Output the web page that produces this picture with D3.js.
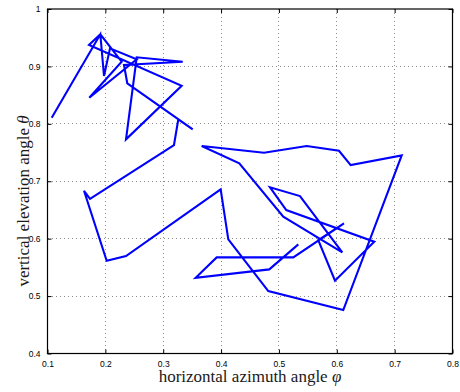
<!DOCTYPE html>
<html>
<head>
<meta charset="utf-8">
<script src="https://cdn.jsdelivr.net/npm/d3@7"></script>
<style>
  html, body { margin: 0; padding: 0; background: #fff; }
  svg { display: block; }
</style>
</head>
<body>
<svg id="chart" width="460" height="392"></svg>
<script>
// ---- data ----
const phi = [0.1073, 0.1913, 0.1977, 0.2080, 0.2542, 0.1722, 0.2282, 0.1913, 0.1717, 0.3319,
             0.2357, 0.2542, 0.3337, 0.2322, 0.2379, 0.3510, 0.3261, 0.3186, 0.1735, 0.1631,
             0.2023, 0.2357, 0.3993, 0.4125, 0.4816, 0.6112, 0.7122, 0.6240, 0.6038, 0.5480,
             0.4742, 0.3665, 0.4315, 0.5075, 0.6095, 0.5364, 0.4846, 0.5127, 0.6648, 0.5969,
             0.5680, 0.6124, 0.5248, 0.3924, 0.3561, 0.4833, 0.5335];
const theta = [0.8106, 0.9559, 0.8833, 0.9315, 0.9124, 0.8455, 0.9082, 0.9559, 0.9373, 0.8664,
               0.7730, 0.9159, 0.9082, 0.9024, 0.8706, 0.7904, 0.8078, 0.7631, 0.6695, 0.6834,
               0.5615, 0.5697, 0.6859, 0.5988, 0.5087, 0.4756, 0.7451, 0.7282, 0.7531, 0.7613,
               0.7497, 0.7613, 0.7312, 0.6382, 0.5761, 0.6742, 0.6894, 0.6498, 0.5946, 0.5267,
               0.5976, 0.6267, 0.5674, 0.5674, 0.5319, 0.5465, 0.5901];
const xTicks = [0.1, 0.2, 0.3, 0.4, 0.5, 0.6, 0.7, 0.8];
const xTickLabels = ["0.1", "0.2", "0.3", "0.4", "0.5", "0.6", "0.7", "0.8"];
const yTicks = [0.4, 0.5, 0.6, 0.7, 0.8, 0.9, 1.0];
const yTickLabels = ["0.4", "0.5", "0.6", "0.7", "0.8", "0.9", "1"];
const xDomain = [0.1, 0.8];
const yDomain = [0.4, 1.0];

// ---- layout ----
const L = 47.5, R = 452.5, T = 9, B = 353.5;
const svg = d3.select("#chart");
const x = d3.scaleLinear().domain(xDomain).range([L, R]);
const y = d3.scaleLinear().domain(yDomain).range([B, T]);

// grid
const grid = svg.append("g");
grid.selectAll("line.gx").data(xTicks.slice(1, -1)).enter().append("line")
  .attr("x1", d => x(d)).attr("x2", d => x(d)).attr("y1", T).attr("y2", B)
  .attr("stroke", "#8c8c8c").attr("stroke-width", 1).attr("stroke-dasharray", "1,3")
  .attr("shape-rendering", "crispEdges");
grid.selectAll("line.gy").data(yTicks.slice(1, -1)).enter().append("line")
  .attr("y1", d => y(d)).attr("y2", d => y(d)).attr("x1", L).attr("x2", R)
  .attr("stroke", "#8c8c8c").attr("stroke-width", 1).attr("stroke-dasharray", "1,3")
  .attr("shape-rendering", "crispEdges");

// axes with inward ticks (MATLAB style)
const fmtX = (d, i) => xTickLabels[i];
const fmtY = (d, i) => yTickLabels[i];
const axB = svg.append("g").attr("transform", `translate(0,${B})`)
  .call(d3.axisBottom(x).tickValues(xTicks).tickFormat(fmtX).tickSizeInner(-4).tickSizeOuter(0).tickPadding(7));
const axT = svg.append("g").attr("transform", `translate(0,${T})`)
  .call(d3.axisTop(x).tickValues(xTicks).tickFormat("").tickSizeInner(-4).tickSizeOuter(0));
const axL = svg.append("g").attr("transform", `translate(${L},0)`)
  .call(d3.axisLeft(y).tickValues(yTicks).tickFormat(fmtY).tickSizeInner(-4).tickSizeOuter(0).tickPadding(7));
const axR = svg.append("g").attr("transform", `translate(${R},0)`)
  .call(d3.axisRight(y).tickValues(yTicks).tickFormat("").tickSizeInner(-4).tickSizeOuter(0));
[axB, axT, axL, axR].forEach(a => {
  a.select(".domain").remove();
  a.selectAll(".tick line").attr("stroke", "#000").attr("stroke-width", 1);
  a.selectAll("text").attr("font-family", "'Liberation Sans', Arial, sans-serif")
    .attr("font-size", 8.5).attr("fill", "#000");
});

// data line
svg.append("path")
  .datum(phi.map((p, i) => [p, theta[i]]))
  .attr("fill", "none").attr("stroke", "#0000ff").attr("stroke-width", 2.1)
  .attr("stroke-linejoin", "miter").attr("stroke-miterlimit", 4)
  .attr("d", d3.line().x(d => x(d[0])).y(d => y(d[1])));

// frame
svg.append("rect").attr("x", L).attr("y", T).attr("width", R - L).attr("height", B - T)
  .attr("fill", "none").attr("stroke", "#000").attr("stroke-width", 1.2);

// axis titles
const xt = svg.append("text").attr("x", 250).attr("y", 382).attr("text-anchor", "middle")
  .attr("font-family", "'Liberation Serif', 'Times New Roman', serif").attr("font-size", 17).attr("fill", "#1a1a1a");
xt.append("tspan").text("horizontal azimuth angle ");
xt.append("tspan").attr("font-style", "italic").text("φ");

const yt = svg.append("text").attr("transform", "translate(29,201) rotate(-90)").attr("text-anchor", "middle")
  .attr("font-family", "'Liberation Serif', 'Times New Roman', serif").attr("font-size", 17).attr("fill", "#1a1a1a");
yt.append("tspan").text("vertical elevation angle ");
yt.append("tspan").attr("font-style", "italic").text("θ");
</script>
</body>
</html>
